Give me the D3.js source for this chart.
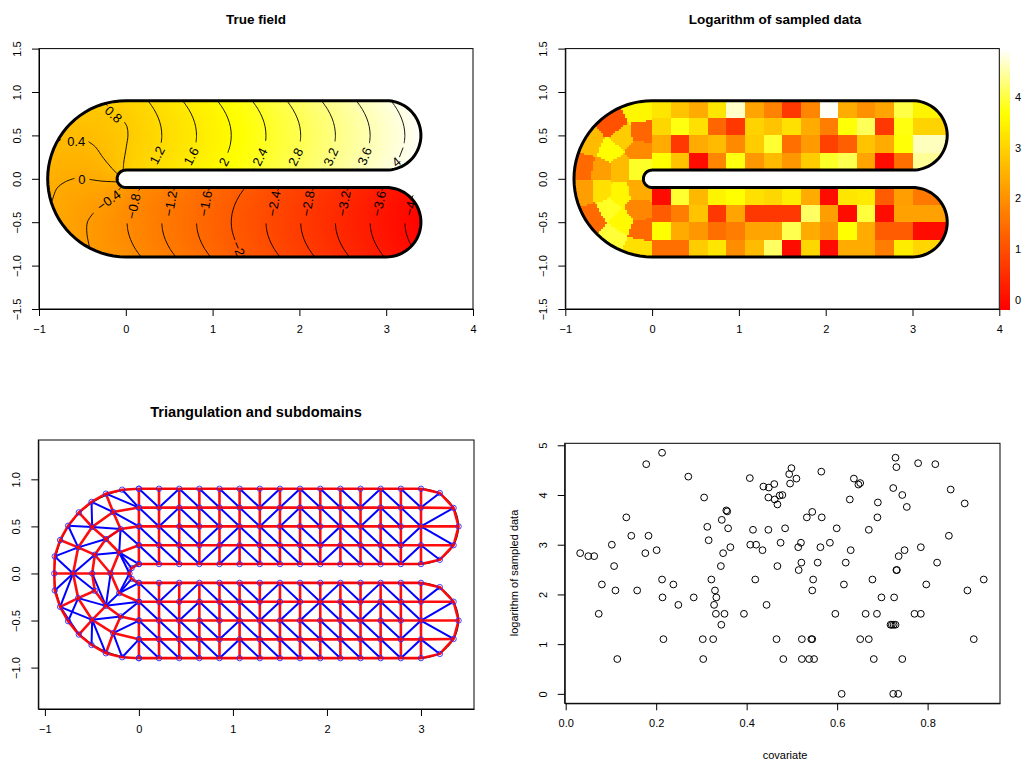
<!DOCTYPE html>
<html><head><meta charset="utf-8">
<script src="https://cdn.jsdelivr.net/npm/d3@7"></script>
<style>
html,body{margin:0;padding:0;background:#fff}
svg{display:block}
text{font-family:"Liberation Sans",Arial,sans-serif;fill:#000}
</style></head><body>
<svg id="c" width="1022" height="765"></svg>
<script>
// ---------- true field ----------
const fieldXs=[-.9,-.7,-.5,-.3,-.1,.1,.3,.5,.7,.9,1.1,1.3,1.5,1.7,1.9,2.1,2.3,2.5,2.7,2.9,3.1,3.3,3.5];
const fieldYs=[.9,.7,.5,.3,.1,-.1,-.3,-.5,-.7,-.9];
const fieldRows=[
[.99,.87,.81,.83,.89,1.05,1.25,1.45,1.65,1.85,2.05,2.25,2.45,2.65,2.85,3.05,3.25,3.45,3.65,3.85,4.05,4.25,4.45],
[.74,.63,.60,.65,.76,.93,1.13,1.33,1.53,1.73,1.93,2.13,2.33,2.53,2.73,2.93,3.13,3.33,3.53,3.73,3.93,4.13,4.33],
[.53,.44,.44,.52,.69,.89,1.09,1.29,1.49,1.69,1.89,2.09,2.29,2.49,2.69,2.89,3.09,3.29,3.49,3.69,3.89,4.09,4.29],
[.36,.27,.28,.40,.66,.93,1.13,1.33,1.53,1.73,1.93,2.13,2.33,2.53,2.73,2.93,3.13,3.33,3.53,3.73,3.93,4.13,4.33],
[.22,.11,.10,.20,.52,1.05,1.25,1.45,1.65,1.85,2.05,2.25,2.45,2.65,2.85,3.05,3.25,3.45,3.65,3.85,4.05,4.25,4.45],
[.11,-.03,-.10,-.13,-.26,-.73,-.93,-1.13,-1.33,-1.53,-1.73,-1.93,-2.13,-2.33,-2.53,-2.73,-2.93,-3.13,-3.33,-3.53,-3.73,-3.93,-4.13],
[.04,-.13,-.26,-.39,-.59,-.85,-1.05,-1.25,-1.45,-1.65,-1.85,-2.05,-2.25,-2.45,-2.65,-2.85,-3.05,-3.25,-3.45,-3.65,-3.85,-4.05,-4.25],
[.03,-.18,-.35,-.51,-.69,-.89,-1.09,-1.29,-1.49,-1.69,-1.89,-2.09,-2.29,-2.49,-2.69,-2.89,-3.09,-3.29,-3.49,-3.69,-3.89,-4.09,-4.29],
[.08,-.15,-.35,-.51,-.67,-.85,-1.05,-1.25,-1.45,-1.65,-1.85,-2.05,-2.25,-2.45,-2.65,-2.85,-3.05,-3.25,-3.45,-3.65,-3.85,-4.05,-4.25],
[.20,-.05,-.25,-.43,-.57,-.73,-.93,-1.13,-1.33,-1.53,-1.73,-1.93,-2.13,-2.33,-2.53,-2.73,-2.93,-3.13,-3.33,-3.53,-3.73,-3.93,-4.13]];
const fieldRange=[-4.25,4.25];

// contour lines, data coordinates
const upperLevels=["1.2","1.6","2","2.4","2.8","3.2","3.6","4"];
const upperMidX=[.415,.815,1.215,1.615,2.015,2.415,2.815,3.215];
const upperLabelX=[.36,.752,1.128,1.543,1.955,2.36,2.75,3.116];
const upperLabelY=[.273,.262,.196,.254,.254,.254,.262,.196];
const upperLabelAngle=[-62,-62,-62,-64,-64,-66,-68,-40];
const upperCurveY=[[.895,.8,.7,.6,.5,.415],[.895,.8,.7,.6,.5,.42],[.895,.8,.7,.6,.5,.4,.3],[.895,.8,.7,.6,.5,.435],[.895,.8,.7,.6,.5,.43],[.895,.8,.7,.6,.5,.43],[.895,.8,.7,.6,.5,.41],[.895,.8,.7,.6,.5,.41]];
const upperCurveBow=[[.156,.09,.04,.01,0,.007],[.156,.09,.04,.01,0,.006],[.156,.09,.04,.01,0,.01,.04],[.156,.09,.04,.01,0,.004],[.156,.09,.04,.01,0,.005],[.156,.09,.04,.01,0,.005],[.156,.09,.04,.01,0,.008],[.156,.09,.04,.01,0,.008]];
const lowerLevels=["\u22120.8","\u22121.2","\u22121.6","\u22122","\u22122.4","\u22122.8","\u22123.2","\u22123.6","\u22124"];
const lowerMidX=[.015,.415,.815,1.215,1.615,2.015,2.415,2.815,3.215];
const lowerLabelX=[.09,.513,.917,1.30,1.705,2.097,2.512,2.916,3.274];
const lowerLabelY=[-.315,-.284,-.284,-.803,-.284,-.284,-.284,-.284,-.341];
const lowerLabelAngle=[-78,-80,-80,68,-80,-80,-80,-78,-78];
const extraContours=[
 [[-.017,.654],[.014,.6],[.025,.504],[.006,.369],[-.025,.178],[-.029,.108]],
 [[-.248,.877],[-.21,.842]],
 [[-.786,.423],[-.747,.454]],
 [[-.429,.427],[-.352,.369],[-.256,.235],[-.159,.12],[-.095,.054]],
 [[-.848,-.254],[-.794,-.111],[-.698,-.035],[-.591,.005]],
 [[-.418,-.007],[-.275,-.027],[-.095,-.035]],
 [[-.418,-.784],[-.448,-.63],[-.441,-.496],[-.371,-.392]],
 [[-.083,-.13],[-.055,-.099]]];
const extraLabels=[["0.8",-.141,.742,42],["0.4",-.571,.427,0],["0",-.505,-.007,0],["\u22120.4",-.198,-.246,-36]];

// ---------- sampled data, log values in grid cells ----------
const upperCells=[
[3.3,2.76,2.4,3.3,4.67,2.3,1.78,.65,1.85,4.9,2.4,2.0,2.3,4.02,3.5],
[3.07,3.75,3.2,1.35,.65,3.0,2.76,3.2,2.4,1.7,3.7,4.12,.65,3.75,3.0],
[2.4,.65,2.4,2.65,1.9,2.9,3.92,1.5,2.15,.8,1.25,2.76,2.4,3.7,4.62],
[3.67,2.76,0,1.85,3.75,2.1,2.65,2.1,2.9,3.87,4.07,2.3,0,1.5,4.42]];
const lowerCells=[
[0,3.92,2.6,3.5,3.67,3.2,3.07,3.4,2.4,0,3.3,3.35,1.2,2.2,1.65],
[1.2,1.7,2.76,.65,2.3,.65,.65,.65,4.17,2.2,0,3.97,0,2.25,2.25],
[3.67,2.4,2.1,1.5,1.7,2.3,2.3,4.07,2.4,2.0,3.67,2.4,1.2,1.2,0],
[1.5,1.5,2.9,3.3,1.95,2.65,4.17,0,3.07,0,2.4,2.4,1.7,3.4,3.05]];
const upperRowEdges=[.9,.7,.5,.3,.1];
const lowerRowEdges=[-.1,-.3,-.5,-.7,-.9];
const curveSiteX=[-.163,-.451,-.123,-.712,-.489,-.335,-.143,-.789,-.585,-.374,-.143,-.789,-.585,-.374,-.143,-.682,-.509,-.163,-.343,-.123,-.451,-.163];
const curveSiteY=[.785,.641,.528,.415,.32,.49,.34,.151,.113,.131,.131,-.144,-.137,-.17,-.121,-.435,-.34,-.359,-.491,-.585,-.661,-.786];
const curveSiteLog=[3.55,1.05,1.35,2.65,3.67,2.9,1.9,1.4,2.2,2.65,3.87,2.2,3.2,3.55,2.4,1.4,3.85,1.85,3.6,1.4,3.95,3.2];
const logRange=[-.18,3.67,4.95];

// ---------- triangulation ----------
const curveNodes=[[-.178,.89],[-.351,.848],[-.504,.76],[-.639,.649],[-.753,.507],[-.838,.355],[-.895,.181],[-.9,0],[-.895,-.181],[-.838,-.355],[-.753,-.507],[-.639,-.649],[-.504,-.76],[-.351,-.848],[-.178,-.89],
[-.274,.653],[-.497,.494],[-.646,.277],[-.70,0],[-.646,-.262],[-.497,-.493],[-.274,-.634],
[-.195,.472],[-.351,.366],[-.469,.199],[-.497,0],[-.469,-.184],[-.351,-.344],[-.195,-.457],
[-.21,.223],[-.301,0],[-.21,-.209],[-.078,.057],[-.1,0],[-.078,-.057],
[0,.9],[0,.7],[0,.5],[0,.3],[0,.1],[0,-.1],[0,-.3],[0,-.5],[0,-.7],[0,-.9]];
const curveRedChains=[[35,0,1,2,3,4,5,6,7,8,9,10,11,12,13,14,44],[39,32,33,34,40],[36,15,16,17,18,19,20,21,43],[37,22,23,24,25,26,27,28,42],[38,29,30,31,41],[7,18,25,30,33],[1,15,22],[23,29],[3,16,23],[5,17,24,30],[9,19,26],[11,20,27],[13,21,28]];
const curveBlueEdges=[[0,36],[1,36],[2,15],[2,16],[4,16],[4,17],[6,17],[6,18],[17,23],[24,18],[24,29],[16,22],[23,22],[22,29],[15,37],[22,38],[29,39],[29,32],[29,33],[8,18],[9,18],[18,26],[10,19],[9,11],[9,20],[19,27],[25,27],[30,27],[31,27],[31,33],[31,34],[31,40],[27,41],[20,28],[20,13],[12,20],[21,14],[21,42],[14,43],[28,41]];
const armXs=[0,.214,.429,.643,.857,1.071,1.286,1.5,1.714,1.929,2.143,2.357,2.571,2.786,3];
const upperDiagonals=["10111100111011","10111100111011","11100111101110","11100111101110"];
const lowerDiagonals=["10011101101011","11011100011011","11110111111110","11110111111110"];
const capUpper=[[3.2,.855],[3.347,.696],[3.4,.5],[3.347,.3],[3.2,.145]];
const capLower=[[3.2,-.145],[3.347,-.3],[3.4,-.5],[3.347,-.696],[3.2,-.855]];

// ---------- scatter ----------
const covariate=[.213,.178,.271,.407,.306,.437,.449,.461,.448,.462,.468,.473,.355,.357,.134,.345,.313,.359,.414,.448,.316,.145,.183,.102,.032,.050,.063,.176,.201,.364,.348,.408,.421,.435,.475,.107,.343,.468,.213,.322,.419,.080,.238,.110,.158,.330,.214,.283,.333,.249,.328,.444,.073,.332,.351,.394,.344,.216,.303,.326,.466,.114,.304,
.729,.731,.779,.817,.499,.494,.510,.496,.565,.637,.651,.647,.724,.744,.851,.479,.628,.690,.754,.882,.545,.533,.566,.689,.485,.599,.670,.847,.520,.514,.563,.584,.630,.749,.785,.736,.521,.515,.557,.619,.821,.731,.732,.547,.678,.924,.615,.797,.545,.888,.698,.726,.596,.663,.688,.771,.785,.718,.721,.725,.729,.522,.543,.545,.651,.670,.902,.481,.522,.538,.549,.681,.744,.610,.724,.735];
const logSample=[4.85,4.62,4.37,4.34,3.95,4.17,4.15,4.22,3.95,3.91,3.81,3.99,3.69,3.67,3.55,3.50,3.36,3.33,3.30,3.30,3.09,3.18,3.18,3.0,2.83,2.77,2.77,2.83,2.89,2.95,2.83,3.0,3.0,2.89,3.04,2.57,2.57,2.57,2.30,2.30,2.30,2.20,2.20,2.08,2.08,2.08,1.94,1.94,1.94,1.79,1.79,1.79,1.61,1.61,1.61,1.61,1.39,1.10,1.10,1.10,1.10,.70,.70,
4.75,4.56,4.64,4.62,4.54,4.42,4.33,4.23,4.47,4.33,4.24,4.21,4.14,4.0,4.11,4.0,3.91,3.85,3.76,3.83,3.66,3.55,3.55,3.55,3.33,3.33,3.30,3.18,3.04,2.95,2.95,3.04,2.89,2.89,2.95,2.77,2.64,2.49,2.64,2.64,2.64,2.49,2.49,2.30,2.30,2.30,2.20,2.20,2.08,2.08,1.94,1.94,1.61,1.61,1.61,1.61,1.61,1.39,1.39,1.39,1.39,1.10,1.10,1.10,1.10,1.10,1.10,.70,.70,.70,.70,.70,.70,0,0,0];

// ---------- tick labels ----------
const xTicksMap=[-1,0,1,2,3,4];
const yTicksMap=[-1.5,-1,-.5,0,.5,1,1.5];
const xTicksMesh=[-1,0,1,2,3];
const yTicksMesh=[-1,-.5,0,.5,1];
const xTicksScatter=[0,.2,.4,.6,.8];
const yTicksScatter=[0,1,2,3,4,5];
const barTicks=[0,1,2,3,4];
const tickFont=11;

const svg=d3.select("#c");
const heat=dom=>d3.scaleLinear().domain([dom[0],dom[0]+.75*(dom[dom.length-1]-dom[0]),dom[dom.length-1]]).range(["#ff0000","#ffff00","#ffffff"]).clamp(true);
const fieldColor=heat(fieldRange);
const logColor=d3.scaleLinear().domain(logRange).range(["#ff0000","#ffff00","#ffffff"]).clamp(true);

function panel(xDom,xRange,yDom,yRange,xTicks,yTicks,title,titleX,titleY,xFmt,yFmt,titleSize){
  const g=svg.append("g");
  const x=d3.scaleLinear().domain(xDom).range(xRange), y=d3.scaleLinear().domain(yDom).range(yRange);
  g.x=x;g.y=y;
  g.finish=function(){
    const ax=g.append("g").attr("transform",`translate(0,${yRange[0]})`).call(d3.axisBottom(x).tickValues(xTicks).tickSize(7).tickSizeOuter(0).tickPadding(9).tickFormat(xFmt));
    ax.selectAll("text").attr("font-size",tickFont).attr("font-family","Liberation Sans");
    const ay=g.append("g").attr("transform",`translate(${xRange[0]},0)`).call(d3.axisLeft(y).tickValues(yTicks).tickSize(7).tickSizeOuter(0).tickFormat(yFmt));
    ay.selectAll("text").attr("font-size",tickFont).attr("font-family","Liberation Sans").attr("x",0).attr("y",-18).attr("dy",0).attr("text-anchor","middle").attr("transform","rotate(-90)");
    for(const a of [ax,ay]){a.select(".domain").attr("stroke","#000").attr("stroke-width",1);a.selectAll("line").attr("stroke","#000").attr("stroke-width",1);}
    g.append("rect").attr("x",xRange[0]).attr("y",yRange[1]).attr("width",xRange[1]-xRange[0]).attr("height",yRange[0]-yRange[1]).attr("fill","none").attr("stroke","#000").attr("stroke-width",1);
    if(title)g.append("text").attr("x",titleX).attr("y",titleY).attr("text-anchor","middle").attr("font-size",titleSize).attr("font-weight","bold").text(title);
  };
  return g;
}
const fmtInt=d3.format("d"),fmtOne=d3.format(".1f");
// outline of the domain in data coordinates
function outline(){
  const pts=[];
  const arc=(cx,cy,r,a0,a1)=>{for(const t of d3.range(0,41)){const a=a0+(a1-a0)*t/40;pts.push([cx+r*Math.cos(a),cy+r*Math.sin(a)]);}};
  arc(3,.5,.4,Math.PI/2,-Math.PI/2);
  arc(0,0,.1,Math.PI/2,3*Math.PI/2);
  arc(3,-.5,.4,Math.PI/2,-Math.PI/2);
  arc(0,0,.9,3*Math.PI/2,Math.PI/2);
  return pts;
}
const domainOutline=outline();
function outlinePath(p){return d3.line().x(d=>p.x(d[0])).y(d=>p.y(d[1]))(domainOutline)+"Z";}
function addClip(p,id){svg.append("clipPath").attr("id",id).append("path").attr("d",outlinePath(p));}
function drawOutline(p,w){p.append("path").attr("d",outlinePath(p)).attr("fill","none").attr("stroke","#000").attr("stroke-width",w);}

// ---- Panel 1
const p1=panel([-1,4],[39,473],[-1.5,1.5],[309,48.6],xTicksMap,yTicksMap,"True field",256,24,fmtInt,fmtOne,13.5);
addClip(p1,"clip1");
(function(){
  const fx=d3.scaleLinear().domain(fieldXs).range(d3.range(fieldXs.length)).clamp(true);
  const fy=d3.scaleLinear().domain(fieldYs).range(d3.range(fieldYs.length)).clamp(true);
  const cells=[];const step=.03;
  for(const cx of d3.range(-.92,3.44,step))for(const cy of d3.range(-.92,.92,step)){
    if(cx>-.02&&Math.abs(cy)<.085)continue;
    const u=fx(cx+step/2),v=fy(cy+step/2);
    const i=Math.min(Math.floor(u),fieldXs.length-2),j=Math.min(Math.floor(v),fieldYs.length-2);
    const a=u-i,b=v-j;
    const val=(1-a)*(1-b)*fieldRows[j][i]+a*(1-b)*fieldRows[j][i+1]+(1-a)*b*fieldRows[j+1][i]+a*b*fieldRows[j+1][i+1];
    cells.push({cx,cy,val});
  }
  p1.append("g").attr("clip-path","url(#clip1)").attr("shape-rendering","crispEdges").selectAll("rect").data(cells).join("rect")
    .attr("x",d=>p1.x(d.cx)).attr("y",d=>p1.y(d.cy+step)).attr("width",p1.x(step)-p1.x(0)+.6).attr("height",p1.y(0)-p1.y(step)+.6).attr("fill",d=>fieldColor(d.val));
  const line=d3.line().x(d=>p1.x(d[0])).y(d=>p1.y(d[1])).curve(d3.curveCatmullRom);
  const lines=[];
  upperLevels.forEach((l,i)=>{
    lines.push(upperCurveY[i].map((yy,k)=>[upperMidX[i]-upperCurveBow[i][k],yy]));
    if(i<7)lines.push([[upperMidX[i]-.148,.115],[upperMidX[i]-.16,.1]]);
    else lines.push([[upperMidX[i]-.02,.36],[upperMidX[i]-.0625,.25]]);
  });
  const lowY=[-.9,-.8,-.7,-.6,-.514],lowB=[.16,.09,.04,.01,0];
  lowerLevels.forEach((l,i)=>{
    if(i===3){
      lines.push([[-.1,.16],[-.2,.09],[-.3,.04],[-.4,.01],[-.5,0],[-.6,.01],[-.707,.043]].map(d=>[lowerMidX[i]+d[1],d[0]]));
      lines.push([[lowerMidX[i]+.144,-.88],[lowerMidX[i]+.16,-.9]]);
    }else if(i===8){
      lines.push([[-.514,0],[-.6,.01],[-.7,.04],[-.76,.068]].map(d=>[lowerMidX[i]+d[1],d[0]]));
      lines.push([[lowerMidX[i]+.096,-.19],[lowerMidX[i]+.073,-.23]]);
    }else{
      lines.push(lowY.map((yy,k)=>[lowerMidX[i]+lowB[k],yy]));
      lines.push([[lowerMidX[i]+.133,-.135],[lowerMidX[i]+.16,-.1]]);
    }
  });
  extraContours.forEach(c=>lines.push(c));
  p1.append("g").selectAll("path").data(lines).join("path").attr("d",line).attr("fill","none").attr("stroke","#000").attr("stroke-width",.9);
  const labs=[];
  upperLevels.forEach((l,i)=>labs.push([l,upperLabelX[i],upperLabelY[i],upperLabelAngle[i]]));
  lowerLevels.forEach((l,i)=>labs.push([l,lowerLabelX[i],lowerLabelY[i],lowerLabelAngle[i]]));
  extraLabels.forEach(l=>labs.push(l));
  p1.append("g").selectAll("text").data(labs).join("text").attr("text-anchor","middle").attr("dy",".36em").attr("font-size",13)
    .attr("transform",d=>`translate(${p1.x(d[1])},${p1.y(d[2])}) rotate(${d[3]})`).text(d=>d[0]);
})();
drawOutline(p1,3);
p1.finish();

// ---- Panel 2
const p2=panel([-1,4],[565.3,999.3],[-1.5,1.5],[309,48.6],xTicksMap,yTicksMap,"Logarithm of sampled data",775,24,fmtInt,fmtOne,13.5);
addClip(p2,"clip2");
(function(){
  const cg=p2.append("g").attr("clip-path","url(#clip2)").attr("shape-rendering","crispEdges");
  const cells=[];
  const add=(rows,edges)=>rows.forEach((row,r)=>row.forEach((v,c)=>{
    const x0=armXs[c],x1=c<14?armXs[c+1]:3.45;
    cells.push({x0,x1,y0:edges[r],y1:edges[r+1],v});
  }));
  add(upperCells,upperRowEdges);add(lowerCells,lowerRowEdges);
  cg.append("g").selectAll("rect").data(cells).join("rect")
    .attr("x",d=>p2.x(d.x0)).attr("y",d=>p2.y(d.y0)).attr("width",d=>p2.x(d.x1)-p2.x(d.x0)+.5).attr("height",d=>p2.y(d.y1)-p2.y(d.y0)+.5).attr("fill",d=>logColor(d.v));
  const del=d3.Delaunay.from(curveSiteX.map((x,i)=>[x,curveSiteY[i]]));
  const step=.0235,blocks=[];
  for(const cx of d3.range(-.92,-.0001,step))for(const cy of d3.range(-.92,.92,step)){
    blocks.push({cx,cy,v:curveSiteLog[del.find(cx+step/2,cy+step/2)]});
  }
  cg.append("g").selectAll("rect").data(blocks).join("rect")
    .attr("x",d=>p2.x(d.cx)).attr("y",d=>p2.y(d.cy+step)).attr("width",d=>Math.min(p2.x(step)-p2.x(0)+.5,p2.x(0)-p2.x(d.cx))).attr("height",p2.y(0)-p2.y(step)+.5).attr("fill",d=>logColor(d.v));
})();
drawOutline(p2,3);
p2.finish();
// colour bar
(function(){
  const by=d3.scaleLinear().domain([logRange[0],logRange[2]]).range([309,48.6]);
  const bins=d3.range(logRange[0],logRange[2],.04);
  svg.append("g").attr("shape-rendering","crispEdges").selectAll("rect").data(bins).join("rect")
    .attr("x",1000).attr("width",10).attr("y",d=>by(d+.04)).attr("height",d=>by(d)-by(d+.04)+.5).attr("fill",d=>logColor(d+.02));
  const a=svg.append("g").attr("transform","translate(1010,0)").call(d3.axisRight(by).tickValues(barTicks).tickSize(0).tickPadding(5).tickFormat(fmtInt));
  a.select(".domain").remove();
  a.selectAll("text").attr("font-size",tickFont).attr("font-family","Liberation Sans");
})();

// ---- Panel 3
const p3=panel([-1.07,3.564],[38.3,474],[-1.44,1.418],[709,440],xTicksMesh,yTicksMesh,"Triangulation and subdomains",256,417,fmtInt,fmtOne,14.6);
(function(){
  const blue=[],red=[],nodes=curveNodes.slice();
  curveBlueEdges.forEach(e=>blue.push([curveNodes[e[0]],curveNodes[e[1]]]));
  curveRedChains.forEach(ch=>red.push(ch.map(i=>curveNodes[i])));
  const arm=(edges,diag,cap,capLinks)=>{
    edges.forEach(yy=>{red.push(armXs.map(xx=>[xx,yy]));armXs.forEach(xx=>nodes.push([xx,yy]));});
    armXs.forEach(xx=>red.push([[xx,edges[0]],[xx,edges[4]]]));
    diag.forEach((row,r)=>row.split("").forEach((ch,c)=>{
      const a=armXs[c],b=armXs[c+1],t=edges[r],u=edges[r+1];
      blue.push(ch==="1"?[[a,t],[b,u]]:[[a,u],[b,t]]);
    }));
    cap.forEach(n=>nodes.push(n));
    red.push([[3,edges[0]],...cap,[3,edges[4]]]);
    capLinks.forEach(l=>(l[2]?red:blue).push([cap[l[0]],[3,edges[l[1]]]]));
  };
  const links=[[0,1,0],[1,2,0],[3,2,0],[4,3,0],[1,1,1],[2,2,1],[3,3,1]];
  arm(upperRowEdges,upperDiagonals,capUpper,links);
  arm(lowerRowEdges,lowerDiagonals,capLower,links);
  const line=d3.line().x(d=>p3.x(d[0])).y(d=>p3.y(d[1]));
  p3.append("path").attr("d",outlinePath(p3)).attr("fill","none").attr("stroke","#000").attr("stroke-width",1);
  p3.append("g").selectAll("path").data(blue).join("path").attr("d",line).attr("fill","none").attr("stroke","#0000ff").attr("stroke-width",2);
  p3.append("g").selectAll("path").data(red).join("path").attr("d",line).attr("fill","none").attr("stroke","#ff0000").attr("stroke-width",2.6).attr("opacity",.95);
  p3.append("g").selectAll("circle").data(nodes).join("circle").attr("cx",d=>p3.x(d[0])).attr("cy",d=>p3.y(d[1])).attr("r",2.7).attr("fill","none").attr("stroke","#2a2aff").attr("stroke-width",.9);
})();
p3.finish();

// ---- Panel 4
const p4=panel([-.0022,.96],[564.7,1000],[-.19,5.04],[703.3,443.3],xTicksScatter,yTicksScatter,"",0,0,fmtOne,fmtInt,13.5);
p4.append("g").selectAll("circle").data(covariate).join("circle").attr("cx",d=>p4.x(d)).attr("cy",(d,i)=>p4.y(logSample[i])).attr("r",3.4).attr("fill","none").attr("stroke","#000").attr("stroke-width",1);
p4.finish();
p4.append("text").attr("x",785).attr("y",759).attr("text-anchor","middle").attr("font-size",tickFont).text("covariate");
p4.append("text").attr("transform","translate(518,573) rotate(-90)").attr("text-anchor","middle").attr("font-size",tickFont).text("logarithm of sampled data");
</script>
</body></html>
